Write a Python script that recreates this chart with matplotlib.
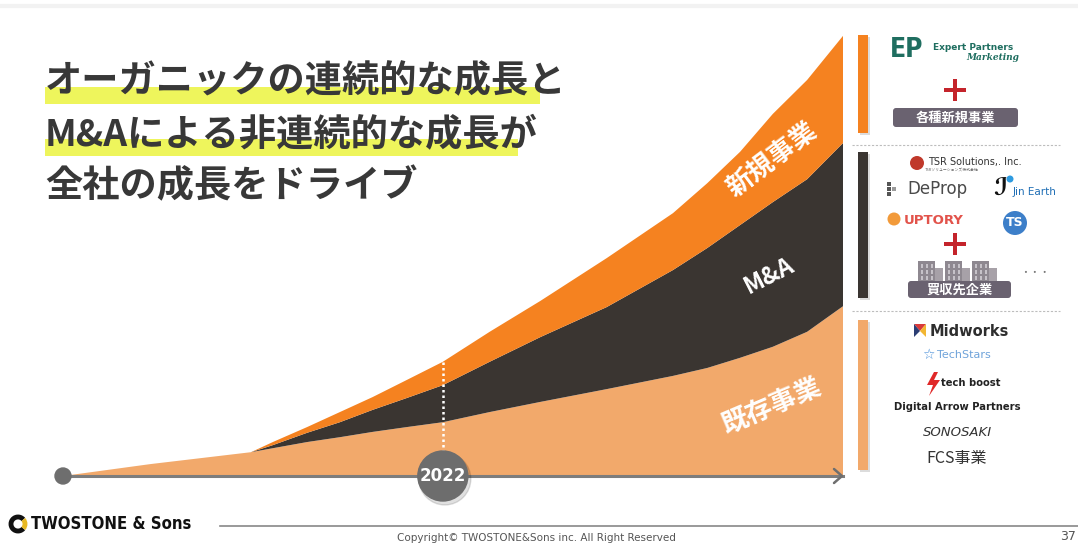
import matplotlib
matplotlib.use("Agg")
import matplotlib.pyplot as plt
from matplotlib.patches import Circle, Rectangle, FancyBboxPatch, Arc, Polygon
import numpy as np

plt.rcParams['font.family'] = ['Noto Sans CJK JP', 'DejaVu Sans']

# ---------------- data (arbitrary growth units, 0-100 scale) ----------------
time_pts = [0, 11.2, 24.1, 26.9, 31.3, 35.5, 39.7, 44.1, 48.7, 54.7, 61.2, 69.7,
            78.2, 82.6, 86.8, 91.0, 95.4, 100.0]
existing = [0, 2.7, 5.4, 6.3, 7.7, 8.8, 10.0, 11.1, 12.2, 14.5, 16.8, 19.7,
            22.7, 24.5, 26.8, 29.3, 32.7, 38.5]
mna      = [0, 0.0, 0.0, 0.7, 2.1, 3.4, 5.0, 6.6, 8.4, 11.4, 14.7, 18.6,
            24.0, 27.2, 30.1, 32.8, 34.6, 37.0]
new_biz  = [0, 0.0, 0.0, 0.7, 1.3, 2.3, 2.9, 4.1, 5.3, 6.8, 8.2, 11.1,
            12.9, 14.7, 16.6, 20.0, 22.5, 24.3]
layer_labels = ["既存事業", "M&A", "新規事業"]
marker_year = "2022"
marker_time = 48.7

title_lines = ["オーガニックの連続的な成長と", "M&Aによる非連続的な成長が", "全社の成長をドライブ"]

C_LIGHT = "#F2A96B"
C_ORANGE = "#F58220"
C_DARK = "#3A3531"

W, H = 1078, 544
fig = plt.figure(figsize=(W / 100, H / 100), dpi=100)
fig.patch.set_facecolor("white")

# ---------------- chart axes ----------------
x0, x1, yb, yt = 63, 843, 476, 35
ax = fig.add_axes([x0 / W, 1 - yb / H, (x1 - x0) / W, (yb - yt) / H])
ax.set_xlim(0, 100)
ax.set_ylim(0, 100)
ax.axis("off")
ax.stackplot(time_pts, existing, mna, new_biz, colors=[C_LIGHT, C_DARK, C_ORANGE], lw=0)

cum1 = np.array(existing)
cum2 = cum1 + np.array(mna)
cum3 = cum2 + np.array(new_biz)
i22 = time_pts.index(marker_time)
ax.plot([marker_time, marker_time], [4, cum3[i22]], color="white", lw=1.8, ls=(0, (1, 1.2)))

ax.text(91.0, 71.5, layer_labels[2], color="white", fontsize=19, fontweight="bold",
        rotation=37, ha="center", va="center", rotation_mode="anchor")
ax.text(90.6, 45.5, layer_labels[1], color="white", fontsize=17, fontweight="bold",
        rotation=27, ha="center", va="center", rotation_mode="anchor")
ax.text(90.9, 15.5, layer_labels[0], color="white", fontsize=19, fontweight="bold",
        rotation=23, ha="center", va="center", rotation_mode="anchor")

# ---------------- overlay (pixel coordinates) ----------------
ov = fig.add_axes([0, 0, 1, 1], zorder=5)
ov.set_xlim(0, W)
ov.set_ylim(H, 0)
ov.axis("off")
ov.patch.set_alpha(0)

# faint slide frame
ov.plot([0, W], [6, 6], color="#f2f2f2", lw=3)

# title with highlighter
hl = [(45, 540, 87, 104), (45, 518, 139, 156)]
for (a, b, c, d) in hl:
    ov.add_patch(Rectangle((a, c), b - a, d - c, color="#EEF55C", zorder=1, lw=0))
for i, t in enumerate(title_lines):
    ov.text(45, 82 + i * 52.5, t, fontsize=26.8, fontweight="bold", color="#383838",
            va="center", ha="left", zorder=2)

# baseline with arrow
ov.plot([63, 843], [476, 476], color="#7d7d7d", lw=2.2, zorder=3)
ov.plot([834, 842, 834], [469, 476, 483], color="#6f6f6f", lw=1.8, zorder=3,
        solid_capstyle="round")
ov.add_patch(Circle((63, 476), 8, color="#6e6e6e", zorder=4))
# 2022 bubble
x22 = x0 + marker_time / 100 * (x1 - x0)
ov.add_patch(Circle((x22 + 2, 479), 26, color="#000000", alpha=0.12, zorder=4))
ov.add_patch(Circle((x22, 476), 25, color="#6d6d6d", zorder=5))
ov.text(x22, 476, marker_year, color="white", fontsize=12, fontweight="bold",
        ha="center", va="center", zorder=6, family="DejaVu Sans")

# ---------------- right panel ----------------
for (ya, yb2, col) in [(35, 133, C_ORANGE), (152, 298, C_DARK), (320, 470, C_LIGHT)]:
    ov.add_patch(Rectangle((860, ya + 2), 10, yb2 - ya, color="#bbbbbb", alpha=0.5, lw=0))
    ov.add_patch(Rectangle((858, ya), 10, yb2 - ya, color=col, lw=0))
for yy in (145, 311):
    ov.plot([852, 1060], [yy, yy], color="#bdbdbd", lw=0.8, ls=(0, (2, 1.5)))

def red_plus(cx, cy, s=12, w=4.5):
    ov.add_patch(Rectangle((cx - s, cy - w / 2), 2 * s, w, color="#C4242B", lw=0))
    ov.add_patch(Rectangle((cx - w / 2, cy - s), w, 2 * s, color="#C4242B", lw=0))

def gray_box(x, y, w, h, label):
    ov.add_patch(FancyBboxPatch((x, y), w, h, boxstyle="round,pad=0,rounding_size=3",
                                color="#6A6270", lw=0))
    ov.text(x + w / 2, y + h / 2 + 0.5, label, color="white", fontsize=9.5,
            fontweight="bold", ha="center", va="center")

# new business logos
ov.text(890, 50, "EP", color="#1F6E60", fontsize=19, fontweight="bold", ha="left",
        va="center", family="DejaVu Sans", fontstretch="condensed")
ov.text(933, 47, "Expert Partners", color="#1F6E60", fontsize=6.5, fontweight="bold",
        ha="left", va="center", family="DejaVu Sans")
ov.text(1019, 58, "Marketing", color="#1F6E60", fontsize=6.5, fontstyle="italic",
        fontweight="bold", ha="right", va="center", family="DejaVu Serif")
red_plus(955, 90, 11, 4.5)
gray_box(893, 108, 125, 19, "各種新規事業")

# M&A logos
ov.add_patch(Circle((917, 163), 7, color="#C0392B", lw=0))
ov.text(928, 162, "TSR Solutions,. Inc.", color="#333333", fontsize=7, ha="left",
        va="center", family="DejaVu Sans")
ov.text(925, 170, "TSRソリューションズ株式会社", color="#666666", fontsize=2.8, ha="left", va="center")
for k, (dx, dy) in enumerate([(0, 0), (0, 5), (0, 10), (5, 5)]):
    ov.add_patch(Rectangle((887 + dx, 182 + dy), 4, 4, color="#555555" if k < 3 else "#9a9a9a", lw=0))
ov.text(907, 189, "DeProp", color="#4a4a4a", fontsize=12, ha="left", va="center",
        family="DejaVu Sans")
ov.text(1000, 189, "ℐ", color="#111111", fontsize=17, ha="center", va="center", fontweight="bold",
        family="DejaVu Sans", fontstyle="italic")
ov.add_patch(Circle((1010, 179), 3.5, color="#2E9BE0", lw=0))
ov.text(1013, 192, "Jin Earth", color="#1F6EB5", fontsize=7.5, ha="left", va="center",
        family="DejaVu Sans")
ov.add_patch(Circle((894, 219), 6.5, color="#F29A3A", lw=0))
ov.text(904, 220, "UPTORY", color="#E2534B", fontsize=9.5, ha="left", va="center",
        family="DejaVu Sans", fontweight="bold")
ov.add_patch(Circle((1015, 223), 12, color="#3D7FC9", lw=0))
ov.text(1015, 223, "TS", color="white", fontsize=9, ha="center", va="center",
        fontweight="bold", family="DejaVu Sans")
red_plus(955, 244, 11, 4.5)
# building silhouettes
for bx in (918, 945, 972):
    ov.add_patch(Rectangle((bx, 261), 17, 24, color="#8E8890", lw=0))
    ov.add_patch(Rectangle((bx + 17, 268), 8, 17, color="#A7A1A8", lw=0))
    for r in range(3):
        for c in range(3):
            ov.add_patch(Rectangle((bx + 2.5 + c * 5, 264 + r * 6), 2.5, 3.5, color="#C6C2C8", lw=0))
gray_box(908, 281, 103, 17, "買収先企業")
ov.text(1020, 273, "・・・", color="#777777", fontsize=7, ha="left", va="center")

# existing business logos
ov.add_patch(Polygon([[914, 324], [926, 324], [920, 331]], color="#D93A3A", lw=0))
ov.add_patch(Polygon([[914, 324], [920, 331], [914, 337]], color="#2B3E73", lw=0))
ov.add_patch(Polygon([[926, 324], [926, 337], [920, 331]], color="#F2B632", lw=0))
ov.text(930, 331, "Midworks", color="#2e2e2e", fontsize=10.5, ha="left", va="center",
        family="DejaVu Sans", fontweight="bold")
ov.text(928, 355, "☆", color="#4A90D9", fontsize=10, ha="center", va="center", family="DejaVu Sans")
ov.text(937, 355, "TechStars", color="#6FA3DA", fontsize=8, ha="left", va="center",
        family="DejaVu Sans")
ov.add_patch(Polygon([[934, 372], [927, 385], [933, 385], [929, 396], [940, 380], [934, 380], [938, 372]],
                     color="#E02828", lw=0))
ov.text(941, 383, "tech boost", color="#222222", fontsize=8, ha="left", va="center",
        family="DejaVu Sans", fontweight="bold", fontstretch="condensed")
ov.text(957, 407, "Digital Arrow Partners", color="#222222", fontsize=8, ha="center",
        va="center", family="DejaVu Sans", fontweight="bold", fontstretch="condensed")
ov.text(957, 432, "SONOSAKI", color="#333333", fontsize=9.5, ha="center", va="center",
        family="DejaVu Sans", fontstyle="italic")
ov.text(957, 458, "FCS事業", color="#333333", fontsize=11.5, ha="center", va="center")

# ---------------- footer ----------------
ov.add_patch(Arc((18, 524), 14, 14, theta1=40, theta2=320, color="#111111", lw=3.5))
ov.add_patch(Arc((18, 524), 14, 14, theta1=-40, theta2=40, color="#E8B923", lw=3.5))
ov.text(31, 524, "TWOSTONE & Sons", color="#111111", fontsize=12, fontweight="bold",
        ha="left", va="center", family="DejaVu Sans", fontstretch="condensed")
ov.plot([220, W], [526, 526], color="#888888", lw=1.2)
ov.text(536, 538, "Copyright© TWOSTONE&Sons inc. All Right Reserved", color="#555555",
        fontsize=7.5, ha="center", va="center", family="DejaVu Sans")
ov.text(1060, 537, "37", color="#555555", fontsize=9, ha="left", va="center",
        family="DejaVu Sans")

fig.savefig("out.png", dpi=100)
